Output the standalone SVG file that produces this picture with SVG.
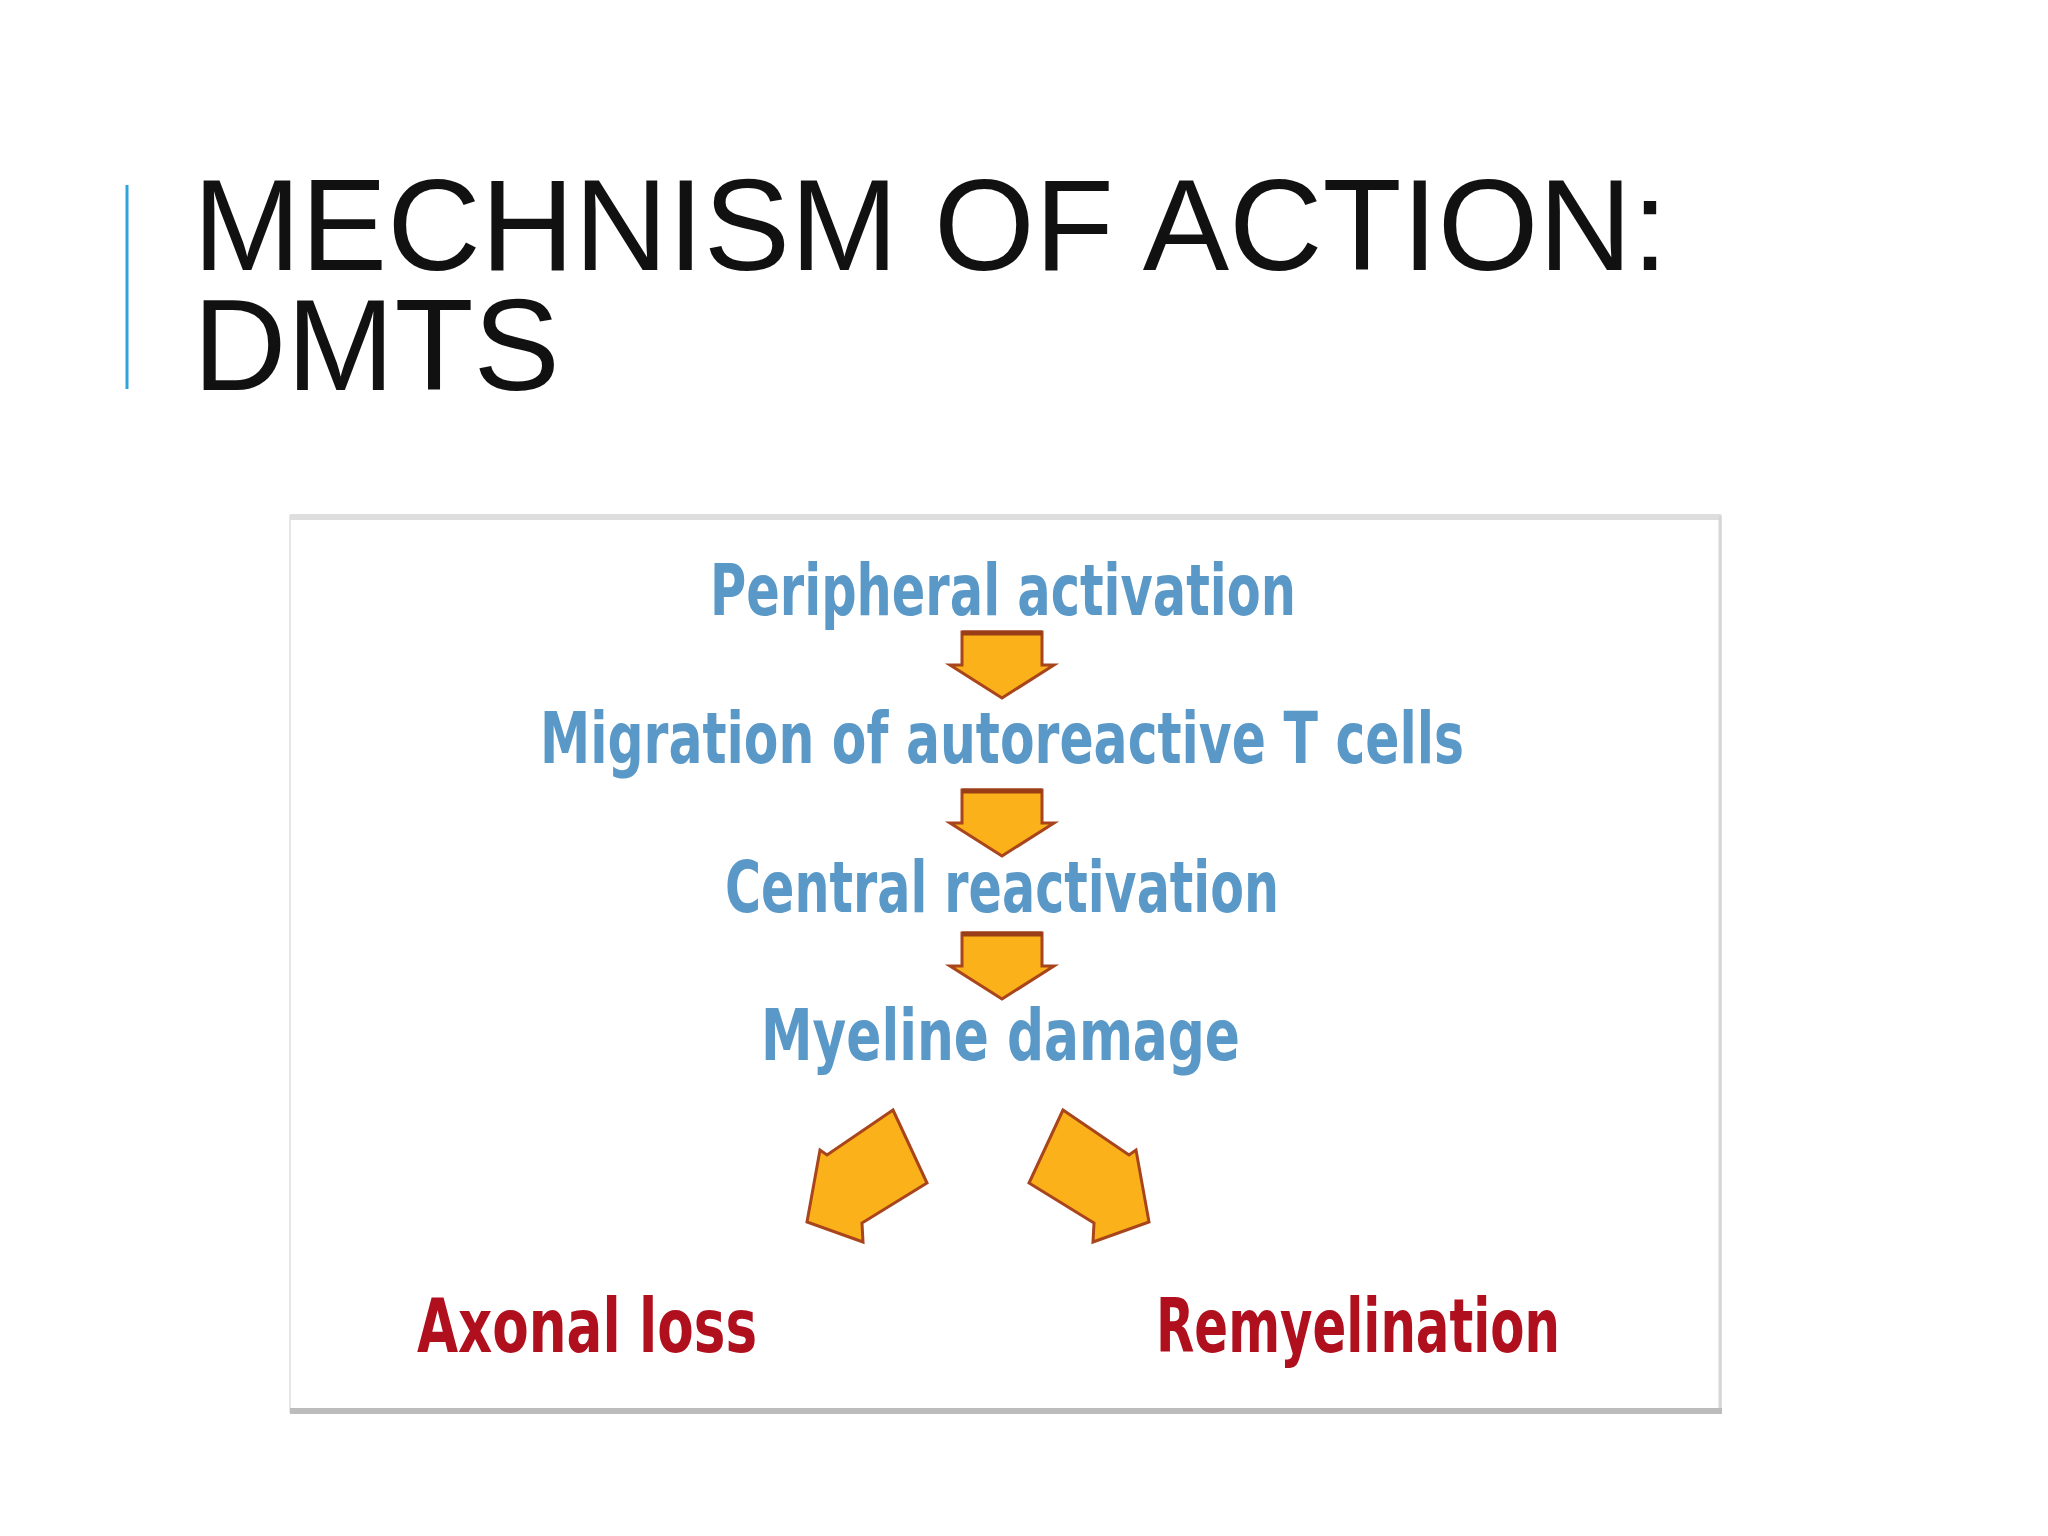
<svg xmlns="http://www.w3.org/2000/svg" width="2048" height="1536" viewBox="0 0 2048 1536">
  <style>
    .title { font-family: "Liberation Sans", Arial, sans-serif; font-size: 129.5px; fill: #111111; }
    .step { font-family: "Liberation Sans Narrow", "DejaVu Sans Condensed", "Liberation Sans", sans-serif; font-weight: bold; font-size: 72px; fill: #5a99c7; }
    .out { font-family: "Liberation Sans Narrow", "DejaVu Sans Condensed", "Liberation Sans", sans-serif; font-weight: bold; font-size: 74px; fill: #b0101e; }
    .arrow { fill: #fbb119; stroke: #a8451c; stroke-width: 3; stroke-linejoin: miter; }
    .arrowtop { stroke: #9a3e18; stroke-width: 5; }
  </style>
  <defs>
    <g id="downArrow">
      <path class="arrow" d="M 962 632 L 1042 632 L 1042 665 L 1054 665 L 1002 698 L 950 665 L 962 665 Z"/>
      <line class="arrowtop" x1="962" y1="633" x2="1042" y2="633"/>
    </g>
    <polygon id="sideArrow" class="arrow" points="893,1110 927,1183 862,1223 863,1242 807,1222 820,1150 827,1155"/>
  </defs>
  <rect width="2048" height="1536" fill="#ffffff"/>

  <g id="title">
    <line x1="127" y1="185" x2="127" y2="389" stroke="#2ea3dc" stroke-width="3"/>
    <text class="title" x="193" y="270">MECHNISM OF ACTION:</text>
    <text class="title" x="193" y="390">DMTS</text>
  </g>

  <g id="figure">
    <rect x="290" y="516" width="1431" height="896" fill="#ffffff" stroke="#e6e6e6" stroke-width="2"/>
    <line x1="290" y1="517" x2="1721" y2="517" stroke="#dedede" stroke-width="6"/>
    <line x1="1720" y1="516" x2="1720" y2="1412" stroke="#d6d6d6" stroke-width="3"/>
    <line x1="290" y1="1411" x2="1722" y2="1411" stroke="#bcbcbc" stroke-width="6"/>
  </g>

  <g id="connectors">
    <use href="#downArrow"/>
    <use href="#downArrow" transform="translate(0,158)"/>
    <use href="#downArrow" transform="translate(0,301)"/>
    <use href="#sideArrow"/>
    <use href="#sideArrow" transform="translate(1956,0) scale(-1,1)"/>
  </g>

  <g id="node-peripheral">
    <text class="step" x="710" y="615" textLength="586" lengthAdjust="spacingAndGlyphs">Peripheral activation</text>
  </g>
  <g id="node-migration">
    <text class="step" x="540" y="763" textLength="924" lengthAdjust="spacingAndGlyphs">Migration of autoreactive T cells</text>
  </g>
  <g id="node-central">
    <text class="step" x="725" y="912" textLength="554" lengthAdjust="spacingAndGlyphs">Central reactivation</text>
  </g>
  <g id="node-myeline">
    <text class="step" x="761" y="1060" textLength="479" lengthAdjust="spacingAndGlyphs">Myeline damage</text>
  </g>
  <g id="node-axonal">
    <text class="out" x="417" y="1352" textLength="340" lengthAdjust="spacingAndGlyphs">Axonal loss</text>
  </g>
  <g id="node-remyelination">
    <text class="out" x="1156" y="1352" textLength="404" lengthAdjust="spacingAndGlyphs">Remyelination</text>
  </g>
</svg>
